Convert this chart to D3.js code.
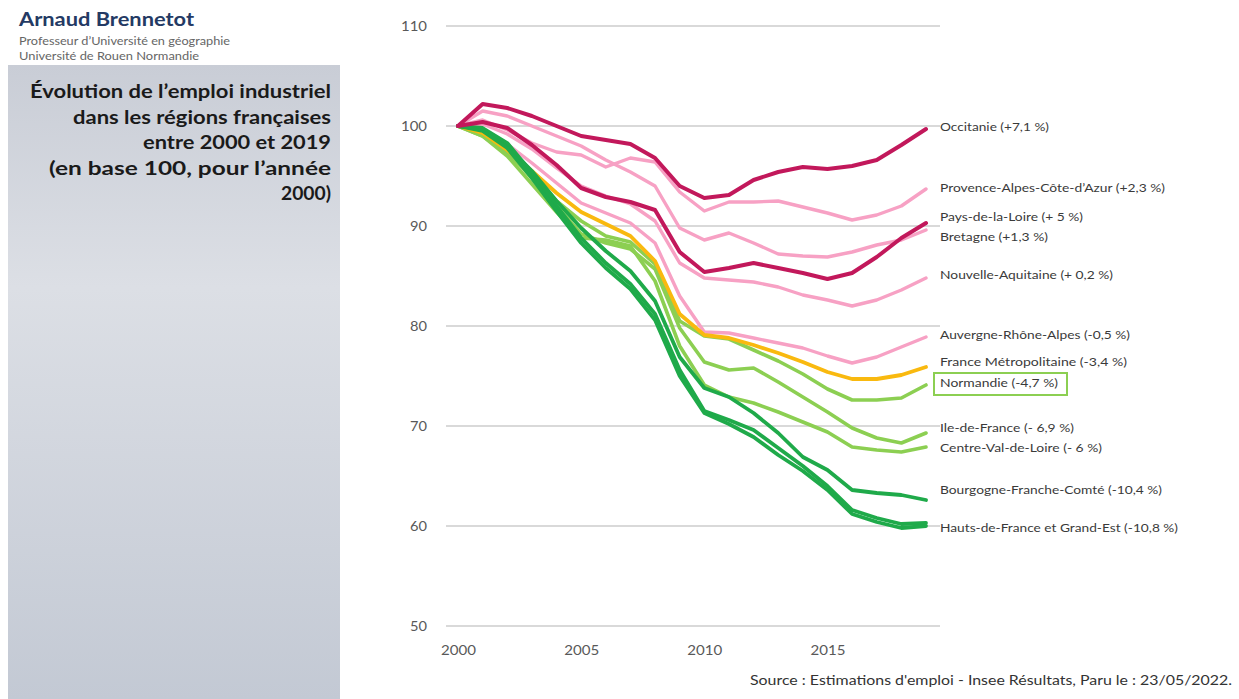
<!DOCTYPE html>
<html><head><meta charset="utf-8">
<script src="https://cdn.jsdelivr.net/npm/d3@7"></script>
<style>
html,body{margin:0;padding:0;background:#fff;}
svg{display:block;}
</style></head>
<body>
<svg id="chart" width="1239" height="699"></svg>
<script>
// ---------- DATA ----------
const years = d3.range(2000, 2020);
const yTicks = [50, 60, 70, 80, 90, 100, 110];
const xTicks = [2000, 2005, 2010, 2015];

const occitanie   = [100,102.2,101.8,101.0,100.0,99.0,98.6,98.2,96.8,94.0,92.8,93.1,94.6,95.4,95.9,95.7,96.0,96.6,98.1,99.7];
const paca        = [100,100.6,99.6,98.3,97.4,97.1,95.9,96.8,96.4,93.4,91.5,92.4,92.4,92.5,91.9,91.3,90.6,91.1,92.0,93.7];
const paysLoire   = [100,100.4,99.8,98.1,96.1,93.8,92.9,92.4,91.6,87.4,85.4,85.8,86.3,85.8,85.3,84.7,85.3,86.9,88.8,90.3];
const bretagne    = [100,101.5,101.0,100.0,99.0,98.0,96.6,95.4,94.0,89.8,88.6,89.3,88.3,87.2,87.0,86.9,87.4,88.1,88.6,89.6];
const nouvAquit   = [100,100.2,99.2,97.7,95.8,94.0,93.0,92.2,90.5,86.3,84.8,84.6,84.4,83.9,83.1,82.6,82.0,82.6,83.6,84.8];
const auvergneRA  = [100,99.5,98.2,96.3,94.3,92.3,91.3,90.3,88.3,83.0,79.4,79.3,78.8,78.3,77.8,77.0,76.3,76.9,77.9,78.9];
const franceMetro = [100,99.3,97.6,95.5,93.3,91.4,90.2,89.0,86.5,81.2,79.1,78.8,78.1,77.3,76.4,75.4,74.7,74.7,75.1,75.9];
const normandie   = [100,99.0,97.3,95.0,92.5,90.5,89.0,88.4,86.2,80.5,79.0,78.7,77.6,76.5,75.2,73.7,72.6,72.6,72.8,74.1];
const ileFrance   = [100,99.2,97.5,94.8,92.0,89.2,88.3,87.7,85.7,79.8,76.4,75.6,75.8,74.4,72.9,71.4,69.8,68.8,68.3,69.3];
const centreVL    = [100,99.0,97.0,94.2,91.4,88.8,88.6,88.0,84.5,78.0,74.1,72.9,72.3,71.4,70.4,69.4,67.9,67.6,67.4,67.9];
const bourgogneFC = [100,99.7,98.0,95.5,92.5,89.8,87.5,85.5,82.5,76.9,73.8,72.9,71.3,69.3,66.9,65.6,63.6,63.3,63.1,62.6];
const hautsFrance = [100,99.8,98.3,95.3,92.0,88.8,86.3,84.2,81.2,75.6,71.5,70.6,69.6,67.8,66.0,64.0,61.6,60.8,60.2,60.3];
const grandEst    = [100,99.5,97.8,94.8,91.5,88.3,85.8,83.7,80.6,75.0,71.3,70.2,68.9,67.1,65.5,63.6,61.2,60.4,59.8,60.0];

const seriesNames = ["Occitanie","Provence-Alpes-Côte-d’Azur","Pays-de-la-Loire","Bretagne","Nouvelle-Aquitaine",
  "Auvergne-Rhône-Alpes","France Métropolitaine","Normandie","Ile-de-France","Centre-Val-de-Loire",
  "Bourgogne-Franche-Comté","Hauts-de-France","Grand-Est"];
const seriesValues = [occitanie,paca,paysLoire,bretagne,nouvAquit,auvergneRA,franceMetro,normandie,ileFrance,centreVL,bourgogneFC,hautsFrance,grandEst];
const seriesGroup = ["dark","pink","dark","pink","pink","pink","orange","light","light","light","green","green","green"];

const labelTexts = ["Occitanie (+7,1 %)","Provence-Alpes-Côte-d’Azur (+2,3 %)","Pays-de-la-Loire (+ 5 %)","Bretagne (+1,3 %)",
  "Nouvelle-Aquitaine (+ 0,2 %)","Auvergne-Rhône-Alpes (-0,5 %)","France Métropolitaine (-3,4 %)","Normandie (-4,7 %)",
  "Ile-de-France (- 6,9 %)","Centre-Val-de-Loire (- 6 %)","Bourgogne-Franche-Comté (-10,4 %)","Hauts-de-France et Grand-Est (-10,8 %)"];
const labelSeries = [0,1,2,3,4,5,6,7,8,9,10,11];

const titleLines = ["Évolution de l’emploi industriel","dans les régions françaises","entre 2000 et 2019","(en base 100, pour l’année","2000)"];
const authorName = "Arnaud Brennetot";
const authorLines = ["Professeur d’Université en géographie","Université de Rouen Normandie"];
const sourceText = "Source : Estimations d'emploi - Insee Résultats, Paru le : 23/05/2022.";

// ---------- STYLE ----------
const FONT = "Lato, 'Open Sans', sans-serif";
const colors = {dark:"#c2185b", pink:"#f7a1c4", orange:"#f9b90f", light:"#8ccf52", green:"#1faa4a"};
const widths = {dark:4, pink:3.4, orange:3.8, light:3.6, green:3.8};
const drawOrder = ["pink","light","orange","green","dark"];
const titleWidths = [301, 258, 188, 282, 50];
const labelWidths = [109, 225, 143, 108, 173, 190, 187, 118, 134, 162, 222, 238];
const labelNudge  = [-2, -1, -6, 7, -3, -2, -5, -2, -5, 1, -10, 5];

const svg = d3.select("#chart");

// left panel
const defs = svg.append("defs");
const grad = defs.append("linearGradient").attr("id","panelGrad").attr("x1",0).attr("y1",0).attr("x2",0).attr("y2",1);
grad.append("stop").attr("offset","0%").attr("stop-color","#c9cdd6");
grad.append("stop").attr("offset","35%").attr("stop-color","#dcdfe5");
grad.append("stop").attr("offset","100%").attr("stop-color","#c3c9d4");
svg.append("rect").attr("x",8).attr("y",65).attr("width",332).attr("height",634).attr("fill","url(#panelGrad)");

svg.append("text").attr("x",19).attr("y",26).text(authorName)
  .attr("textLength",175).attr("lengthAdjust","spacingAndGlyphs")
  .attr("font-family",FONT).attr("font-weight","bold").attr("font-size",18).attr("fill","#243a64");
[211,180].forEach((w,i)=>{
  svg.append("text").attr("x",19).attr("y",45+i*15).text(authorLines[i])
    .attr("textLength",w).attr("lengthAdjust","spacingAndGlyphs")
    .attr("font-family",FONT).attr("font-size",10.5).attr("fill","#666");
});
titleLines.forEach((t,i)=>{
  svg.append("text").attr("x",331).attr("y",98+i*25.5).attr("text-anchor","end").text(t)
    .attr("textLength",titleWidths[i]).attr("lengthAdjust","spacingAndGlyphs")
    .attr("font-family",FONT).attr("font-weight","bold").attr("font-size",19).attr("fill","#1a1a1a");
});

// plot
const x = d3.scaleLinear().domain([2000,2019]).range([458,926]);
const y = d3.scaleLinear().domain([50,110]).range([626,26]);

const grid = svg.append("g");
grid.selectAll("line").data(yTicks).join("line")
  .attr("x1",446).attr("x2",940).attr("y1",d=>y(d)).attr("y2",d=>y(d))
  .attr("stroke","#d9d9d9").attr("stroke-width",2);

const yAxis = svg.append("g").attr("transform","translate(436,0)")
  .call(d3.axisLeft(y).tickValues(yTicks).tickSize(0).tickPadding(9));
yAxis.select(".domain").remove();
yAxis.selectAll("text").attr("font-family",FONT).attr("font-size",14).attr("fill","#595959")
  .attr("textLength",d=>d>=100?26:17).attr("lengthAdjust","spacingAndGlyphs");

const xAxis = svg.append("g").attr("transform","translate(0,640)")
  .call(d3.axisBottom(x).tickValues(xTicks).tickFormat(d3.format("d")).tickSize(0).tickPadding(5));
xAxis.select(".domain").remove();
xAxis.selectAll("text").attr("font-family",FONT).attr("font-size",14).attr("fill","#595959")
  .attr("textLength",35).attr("lengthAdjust","spacingAndGlyphs");

const line = d3.line().x((d,i)=>x(years[i])).y(d=>y(d));
const lines = svg.append("g").attr("fill","none").attr("stroke-linejoin","round").attr("stroke-linecap","round");
drawOrder.forEach(g=>{
  seriesValues.forEach((vals,i)=>{
    if(seriesGroup[i]!==g) return;
    lines.append("path").attr("d",line(vals)).attr("stroke",colors[g]).attr("stroke-width",widths[g]);
  });
});

// end labels
const labG = svg.append("g");
labelSeries.forEach((s,i)=>{
  const cy = y(seriesValues[s][19]) + labelNudge[i];
  labG.append("text").attr("x",940).attr("y",cy+4).text(labelTexts[i])
    .attr("textLength",labelWidths[i]).attr("lengthAdjust","spacingAndGlyphs")
    .attr("font-family",FONT).attr("font-size",11.5).attr("fill","#3a3a3a");
  if(i===7){
    labG.append("rect").attr("x",934).attr("y",cy-10).attr("width",labelWidths[i]+15).attr("height",22)
      .attr("fill","none").attr("stroke","#8ccf52").attr("stroke-width",2);
  }
});

svg.append("text").attr("x",1232).attr("y",685).attr("text-anchor","end").text(sourceText)
  .attr("textLength",482).attr("lengthAdjust","spacingAndGlyphs")
  .attr("font-family",FONT).attr("font-size",14).attr("fill","#333");
</script>
</body></html>
